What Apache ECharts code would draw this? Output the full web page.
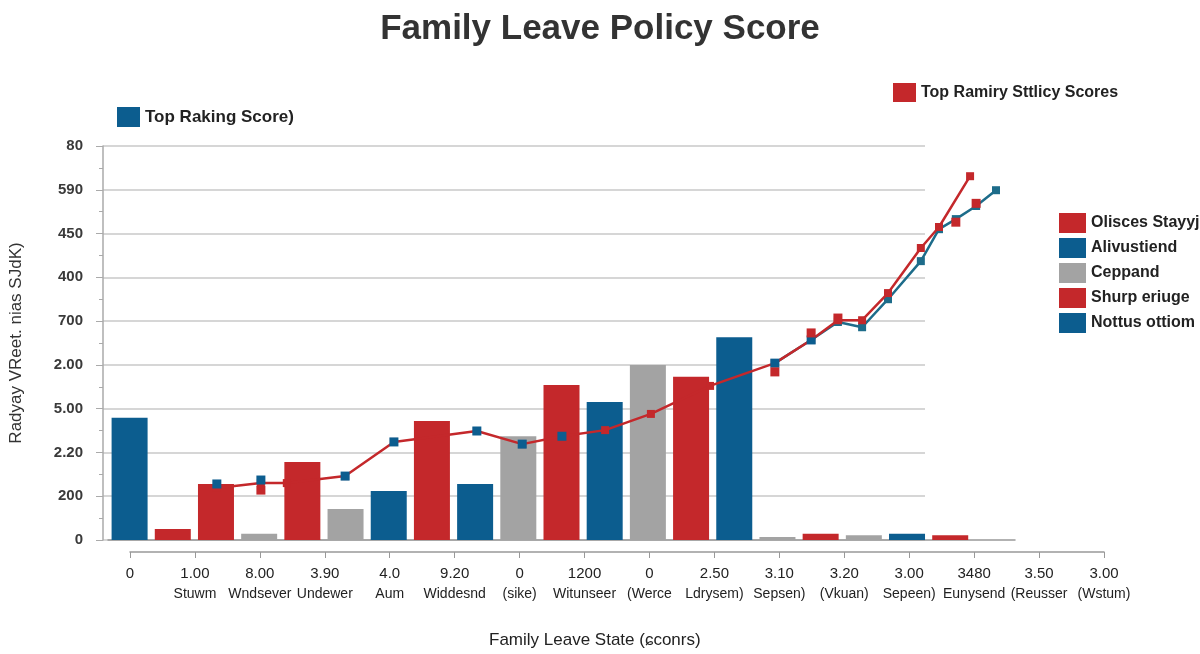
<!DOCTYPE html>
<html>
<head>
<meta charset="utf-8">
<script src="https://cdn.jsdelivr.net/npm/echarts@6/dist/echarts.min.js"></script>
<style>
  html, body { margin: 0; padding: 0; background: #fff; }
  #chart { width: 1200px; height: 654px; }
</style>
</head>
<body>
<div id="chart"></div>
<script>
// ---- data ----
const yTickLabels = ["0", "200", "2.20", "5.00", "2.00", "700", "400", "450", "590", "80"];
const xTickNumbers = ["0", "1.00", "8.00", "3.90", "4.0", "9.20", "0", "1200", "0", "2.50", "3.10", "3.20", "3.00", "3480", "3.50", "3.00"];
const xTickNames = ["", "Stuwm", "Wndsever", "Undewer", "Aum", "Widdesnd", "(sike)", "Witunseer", "(Werce", "Ldrysem)", "Sepsen)", "(Vkuan)", "Sepeen)", "Eunysend", "(Reusser", "(Wstum)"];
const barSlots = ["s1","s2","s3","s4","s5","s6","s7","s8","s9","s10","s11","s12","s13","s14","s15","s16","s17","s18","s19","s20","s21"];
const barValues = [2.79, 0.25, 1.28, 0.14, 1.78, 0.71, 1.12, 2.72, 1.28, 2.37, 3.54, 3.15, 4.00, 3.73, 4.63, 0.07, 0.14, 0.11, 0.14, 0.11, null];
const barGroups = ["Alivustiend","Olisces Stayyj","Olisces Stayyj","Ceppand","Olisces Stayyj","Ceppand","Alivustiend","Olisces Stayyj","Alivustiend","Ceppand","Olisces Stayyj","Alivustiend","Ceppand","Olisces Stayyj","Alivustiend","Ceppand","Olisces Stayyj","Ceppand","Alivustiend","Olisces Stayyj", null];
const redLine = [[2.52,1.19],[3.54,1.30],[4.14,1.30],[5.49,1.46],[6.62,2.24],[8.54,2.49],[9.59,2.19],[10.51,2.37],[11.51,2.51],[12.57,2.88],[13.94,3.52],[15.44,4.04],[16.28,4.57],[16.90,5.02],[17.46,5.02],[18.06,5.64],[18.82,6.67],[19.24,7.15],[19.96,8.31]];
const tealLine = [[15.44,4.04],[16.28,4.57],[16.90,4.98],[17.46,4.86],[18.06,5.50],[18.82,6.37],[19.24,7.10],[19.63,7.33],[20.10,7.63],[20.56,7.99]];
const blueMarks = [[2.52,1.28],[3.54,1.37],[5.49,1.46],[6.62,2.24],[8.54,2.49],[9.59,2.19],[10.51,2.37],[15.44,4.04],[16.28,4.57]];
const redMarks = [[3.54,1.14],[15.44,3.84],[16.28,4.73],[16.90,5.07],[19.63,7.26],[20.10,7.69]];

// ---- styles ----
const BLUE = "#0c5d8f", RED = "#c4282b", GRAY = "#a3a3a3", TEAL = "#1d6c8a";
const groupColors = { "Alivustiend": BLUE, "Olisces Stayyj": RED, "Ceppand": GRAY };
const FONT = "Liberation Sans, Arial, sans-serif";

const barSeries = Object.keys(groupColors).map(name => ({
  name: name,
  type: "bar",
  xAxisIndex: 1, yAxisIndex: 1,
  stack: "bars",
  barWidth: 36,
  itemStyle: { color: groupColors[name] },
  data: barValues.map((v, i) => barGroups[i] === name ? v : "-"),
  z: 2
}));

const legendText = { color: "#222", fontWeight: "bold", fontFamily: FONT };

const option = {
  animation: false,
  textStyle: { fontFamily: FONT },
  title: [
    { text: "Family Leave Policy Score", left: "center", top: 7,
      textStyle: { fontSize: 35, fontWeight: "bold", color: "#333", fontFamily: FONT } },
    { text: "Family Leave State (ɕconrs)", left: 484, top: 627,
      textStyle: { fontSize: 17, fontWeight: "normal", color: "#222", fontFamily: FONT } }
  ],
  legend: [
    { data: ["Top Raking Score)"], left: 117, top: 107, padding: 0, itemWidth: 23, itemHeight: 20, icon: "rect",
      textStyle: Object.assign({ fontSize: 17 }, legendText) },
    { data: ["Top Ramiry Sttlicy Scores"], left: 893, top: 83, padding: 0, itemWidth: 23, itemHeight: 19, icon: "rect",
      textStyle: Object.assign({ fontSize: 16 }, legendText) },
    { data: ["Olisces Stayyj", "Alivustiend", "Ceppand",
             { name: "Shurp eriuge", itemStyle: { color: RED } },
             { name: "Nottus ottiom", itemStyle: { color: BLUE } }],
      orient: "vertical", left: 1059, top: 213, padding: 0, itemWidth: 27, itemHeight: 20, itemGap: 5, icon: "rect",
      textStyle: Object.assign({ fontSize: 16 }, legendText) }
  ],
  grid: [
    { left: 100, right: 275, top: 146, bottom: 114 },
    { left: 108, right: 185, top: 146, bottom: 114 },
    { left: 130, right: 96, top: 146, bottom: 102 }
  ],
  xAxis: [
    { gridIndex: 0, type: "value", show: false, min: 0, max: 1 },
    { gridIndex: 1, type: "category", data: barSlots, boundaryGap: true,
      axisLine: { show: true, lineStyle: { color: "#999", width: 1.5 } },
      axisTick: { show: false }, axisLabel: { show: false } },
    { gridIndex: 1, type: "value", min: 0, max: 21, show: false },
    { gridIndex: 2, type: "category", data: xTickNumbers, boundaryGap: false, position: "bottom",
      axisLine: { show: true, lineStyle: { color: "#999", width: 1.5 } },
      axisTick: { show: true, length: 6, lineStyle: { color: "#999" } },
      axisLabel: {
        margin: 12, interval: 0,
        formatter: (v, i) => "{n|" + xTickNumbers[i] + "}\n{s|" + (xTickNames[i] || " ") + "}",
        rich: {
          n: { fontSize: 15, color: "#222", lineHeight: 20, fontFamily: FONT },
          s: { fontSize: 14, color: "#222", lineHeight: 20, fontFamily: FONT }
        }
      } }
  ],
  yAxis: [
    { gridIndex: 0, type: "value", min: 0, max: 9, interval: 1,
      name: "Radyay VReet. nias SJdK)", nameLocation: "middle", nameGap: 78, nameRotate: 90,
      nameTextStyle: { fontSize: 17, color: "#333", fontFamily: FONT },
      axisLine: { show: true, lineStyle: { color: "#aaa", width: 1.5 } },
      axisTick: { show: true, length: 7, lineStyle: { color: "#aaa" } },
      minorTick: { show: true, splitNumber: 2, length: 4, lineStyle: { color: "#aaa" } },
      splitLine: { show: true, lineStyle: { color: "#c8c8c8", width: 1.5 } },
      axisLabel: { margin: 20, fontSize: 15, fontWeight: "bold", color: "#3a3a3a",
        formatter: v => yTickLabels[Math.round(v)] } },
    { gridIndex: 1, type: "value", min: 0, max: 9, interval: 1, show: false },
    { gridIndex: 2, type: "value", show: false }
  ],
  series: [
    ...barSeries,
    { name: "Shurp eriuge", type: "line", xAxisIndex: 2, yAxisIndex: 1, data: redLine,
      lineStyle: { color: RED, width: 2.5 }, itemStyle: { color: RED },
      symbol: "rect", symbolSize: 8, z: 5 },
    { name: "Nottus ottiom", type: "line", xAxisIndex: 2, yAxisIndex: 1, data: tealLine,
      lineStyle: { color: TEAL, width: 2.5 }, itemStyle: { color: TEAL },
      symbol: "rect", symbolSize: 8, z: 4 },
    { name: "Top Raking Score)", type: "scatter", xAxisIndex: 2, yAxisIndex: 1, data: blueMarks,
      symbol: "rect", symbolSize: 9, itemStyle: { color: BLUE, opacity: 1 }, z: 6 },
    { name: "Top Ramiry Sttlicy Scores", type: "scatter", xAxisIndex: 2, yAxisIndex: 1, data: redMarks,
      symbol: "rect", symbolSize: 9, itemStyle: { color: RED, opacity: 1 }, z: 6 }
  ]
};

const chart = echarts.init(document.getElementById("chart"));
chart.setOption(option);
</script>
</body>
</html>
